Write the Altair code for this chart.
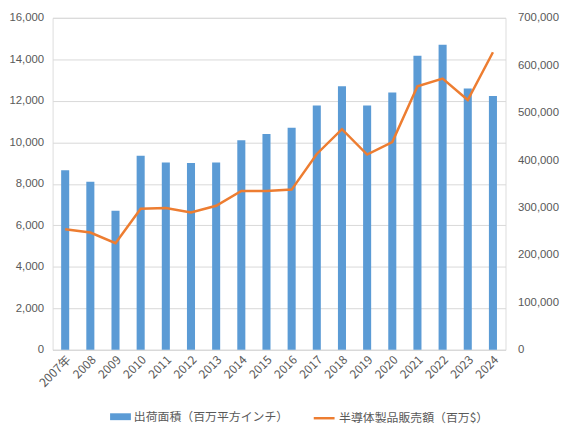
import altair as alt
import pandas as pd

years = ["2007年", "2008", "2009", "2010", "2011", "2012", "2013", "2014", "2015",
         "2016", "2017", "2018", "2019", "2020", "2021", "2022", "2023", "2024"]
area = [8650, 8100, 6700, 9350, 9030, 9000, 9030, 10100, 10400,
        10700, 11780, 12700, 11780, 12400, 14170, 14700, 12590, 12230]
sales = [254300, 247200, 225000, 297400, 298800, 289800, 303700, 335000, 335000,
         337800, 413000, 465300, 411600, 438100, 555800, 571800, 526600, 627500]

s_area = "出荷面積（百万平方インチ）"
s_sales = "半導体製品販売額（百万$）"

df = pd.DataFrame({"year": years, "area": area, "sales": sales})
df["s_area"] = s_area
df["s_sales"] = s_sales

font = "Liberation Sans"
jp = "Noto Sans CJK JP"
grey = "#595959"

x = alt.X("year:N", sort=years, title=None,
          scale=alt.Scale(paddingInner=0.68, paddingOuter=0.34),
          axis=alt.Axis(labelAngle=-45, ticks=False, domainColor="#D9D9D9",
                        labelPadding=4, labelFont=jp, labelFontSize=12,
                        labelColor=grey))

bars = alt.Chart(df).mark_bar().encode(
    x=x,
    y=alt.Y("area:Q", title=None, scale=alt.Scale(domain=[0, 16000]),
            axis=alt.Axis(values=list(range(0, 16001, 2000)), format=",.0f",
                          ticks=False, domain=False, gridColor="#D9D9D9",
                          labelPadding=9, labelFont=font, labelFontSize=11.5,
                          labelColor=grey)),
    color=alt.Color("s_area:N", scale=alt.Scale(range=["#5B9BD5"]),
                    legend=alt.Legend(title=None, orient="none", legendX=58, legendY=392,
                                      labelFont=jp, labelFontSize=12, labelColor=grey,
                                      symbolType="M-1,-0.33H1V0.33H-1Z", symbolSize=441,
                                      symbolStrokeWidth=0, labelOffset=3)),
)

line = alt.Chart(df).mark_line(strokeWidth=2.5).encode(
    x=x,
    y=alt.Y("sales:Q", title=None, scale=alt.Scale(domain=[0, 700000]),
            axis=alt.Axis(orient="right", values=list(range(0, 700001, 100000)),
                          format=",.0f", ticks=False, domain=False, grid=False,
                          labelPadding=12, labelFont=font, labelFontSize=11.5,
                          labelColor=grey)),
    stroke=alt.Stroke("s_sales:N", scale=alt.Scale(range=["#ED7D31"]),
                      legend=alt.Legend(title=None, orient="none", legendX=262, legendY=392,
                                        labelFont=jp, labelFontSize=12, labelColor=grey,
                                        symbolType="stroke", symbolSize=441,
                                        symbolStrokeWidth=2.5, labelOffset=3)),
)

chart = alt.layer(bars, line).resolve_scale(y="independent").properties(
    width=457, height=335,
    autosize=alt.AutoSizeParams(type="none"),
    padding={"left": 45, "top": 8, "right": 58, "bottom": 80},
).configure_view(stroke=None).configure(background="white")

chart.save("out.html", embed_options={"renderer": "svg", "actions": False})
